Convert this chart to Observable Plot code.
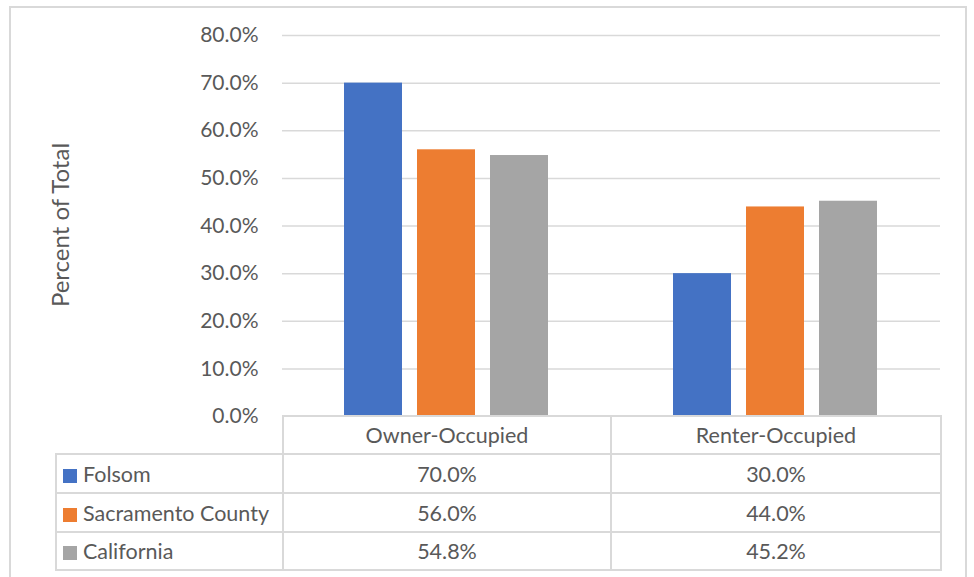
<!DOCTYPE html>
<html>
<head>
<meta charset="utf-8">
<script src="https://cdn.jsdelivr.net/npm/d3@7"></script>
<script src="https://cdn.jsdelivr.net/npm/@observablehq/plot@0.6"></script>
<style>
  html, body { margin: 0; padding: 0; background: #fff; }
  #wrap { position: relative; width: 974px; height: 577px; overflow: hidden; font-family: Lato, "Liberation Sans", sans-serif; color: #595959; }
  #frame { position: absolute; left: 9px; top: 6px; width: 958px; height: 600px; border: 2px solid #d9d9d9; box-sizing: border-box; }
  #chart { position: absolute; left: 0; top: 0; }
  #ytitle { position: absolute; left: 59px; top: 225px; transform: translate(-50%, -50%) rotate(-90deg); white-space: nowrap; font-size: 24px; }
  #tbl { position: absolute; left: 55px; top: 415px; border-collapse: collapse; font-size: 21.5px; table-layout: fixed; }
  #tbl td { border: 2px solid #d9d9d9; padding: 0; text-align: center; }
  #tbl td.lab { text-align: left; padding-left: 6px; white-space: nowrap; }
  #tbl tr.head td.empty { border-top: none; border-left: none; }
  .sw { display: inline-block; width: 14px; height: 14px; margin-right: 6px; vertical-align: -1px; }
</style>
</head>
<body>
<div id="wrap">
  <div id="frame"></div>
  <div id="chart"></div>
  <div id="ytitle">Percent of Total</div>
  <table id="tbl"></table>
</div>
<script>
const groups = ["Owner-Occupied", "Renter-Occupied"];
const series = ["Folsom", "Sacramento County", "California"];
const colors = ["#4472C4", "#ED7D31", "#A5A5A5"];
const folsom = [0.700, 0.300];
const sacramento = [0.560, 0.440];
const california = [0.548, 0.452];
const yTicks = [0, 0.1, 0.2, 0.3, 0.4, 0.5, 0.6, 0.7, 0.8];

const valuesBySeries = [folsom, sacramento, california];
const data = [];
series.forEach((s, i) => groups.forEach((g, j) => data.push({group: g, series: s, value: valuesBySeries[i][j]})));

const fmt = d3.format(".1%");

const plot = Plot.plot({
  width: 974,
  height: 446,
  marginTop: 35,
  marginBottom: 30,
  marginLeft: 282,
  marginRight: 34,
  style: {fontFamily: "Lato, 'Liberation Sans', sans-serif", fontSize: "21px", color: "#595959", background: "transparent"},
  fx: {domain: groups, padding: 0, axis: null},
  x: {domain: series, paddingInner: 0.205, paddingOuter: 0.85, axis: null},
  y: {domain: [0, 0.8], axis: null},
  color: {domain: series, range: colors},
  marks: [
    Plot.ruleY(yTicks.slice(1), {stroke: "#d9d9d9", strokeWidth: 1.5, strokeOpacity: 1}),
    Plot.barY(data, {fx: "group", x: "series", y: "value", fill: "series", insetLeft: 0, insetRight: 0}),
    Plot.axisY({ticks: yTicks, tickFormat: fmt, tickSize: 0, tickPadding: 24, fill: "#595959", label: null, fontSize: 21})
  ]
});
document.getElementById("chart").appendChild(plot);

// data table below the plot
const tbl = document.getElementById("tbl");
const colW = [227, 328, 330];
const cg = document.createElement("colgroup");
colW.forEach(w => { const c = document.createElement("col"); c.style.width = w + "px"; cg.appendChild(c); });
tbl.appendChild(cg);
const head = document.createElement("tr");
head.className = "head";
head.style.height = "38px";
const e = document.createElement("td"); e.className = "empty"; head.appendChild(e);
groups.forEach(g => { const td = document.createElement("td"); td.textContent = g; head.appendChild(td); });
tbl.appendChild(head);
const rowH = [39, 39, 38];
series.forEach((s, i) => {
  const tr = document.createElement("tr");
  tr.style.height = rowH[i] + "px";
  const lab = document.createElement("td");
  lab.className = "lab";
  const sw = document.createElement("span");
  sw.className = "sw";
  sw.style.background = colors[i];
  lab.appendChild(sw);
  lab.appendChild(document.createTextNode(s));
  tr.appendChild(lab);
  groups.forEach((g, j) => { const td = document.createElement("td"); td.textContent = fmt(valuesBySeries[i][j]); tr.appendChild(td); });
  tbl.appendChild(tr);
});
</script>
</body>
</html>
